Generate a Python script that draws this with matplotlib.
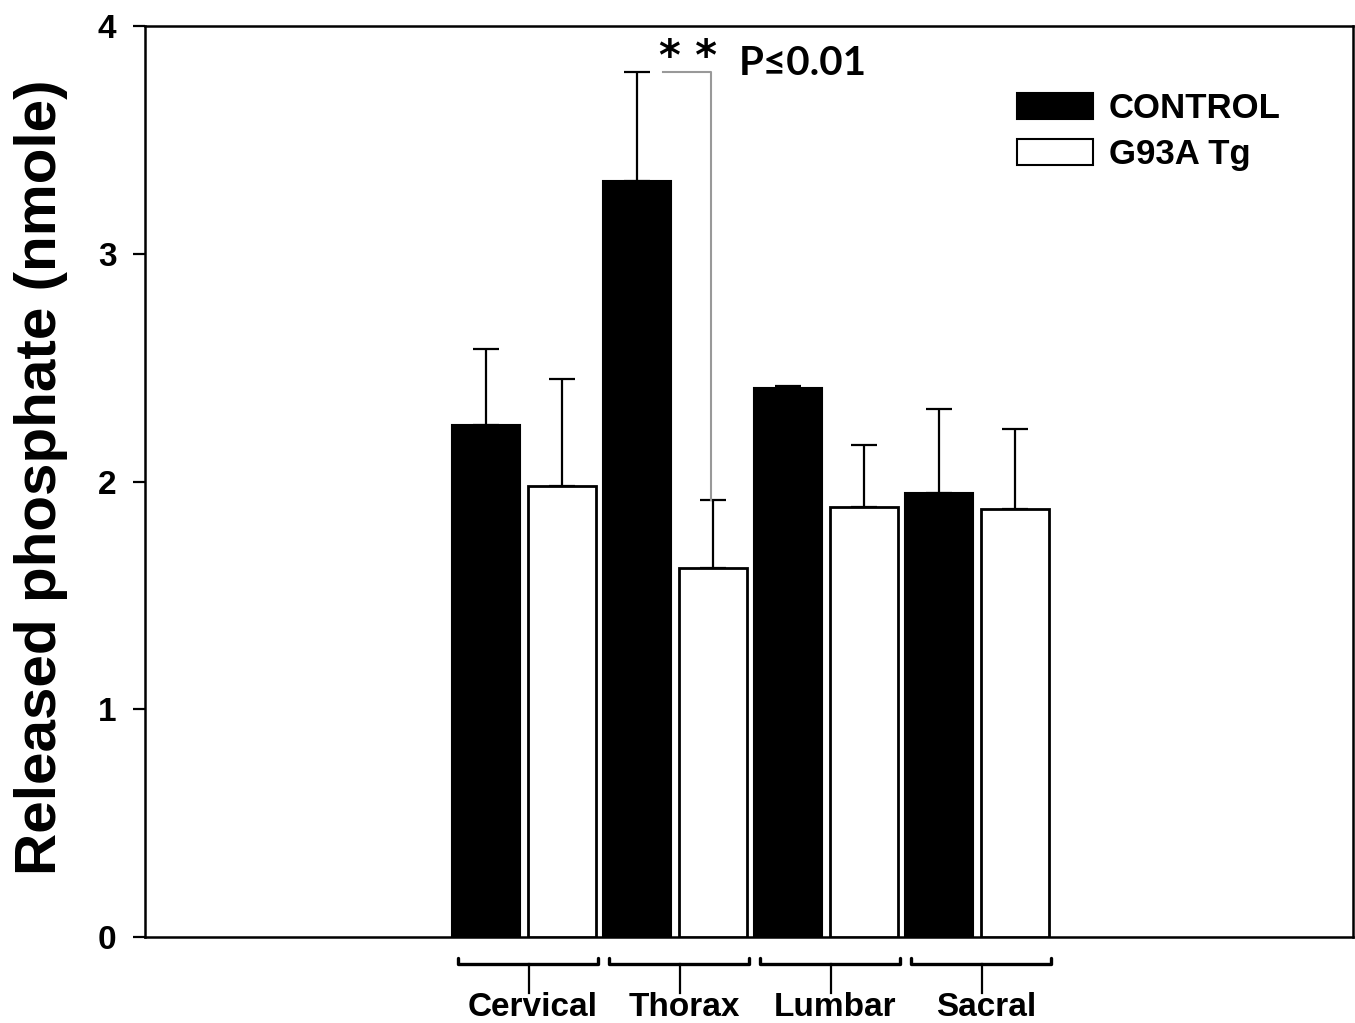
import matplotlib
matplotlib.use("Agg")
import matplotlib.pyplot as plt
import matplotlib.transforms as mtransforms
from matplotlib.patches import Patch
import numpy as np

regions = ["Cervical", "Thorax", "Lumbar", "Sacral"]
control_mean = [2.25, 3.32, 2.41, 1.95]
control_err = [0.33, 0.48, 0.01, 0.37]
tg_mean = [1.98, 1.62, 1.89, 1.88]
tg_err = [0.47, 0.30, 0.27, 0.35]
series_labels = ["CONTROL", "G93A Tg"]
yticks = [0, 1, 2, 3, 4]

plt.rcParams['font.family'] = ['Liberation Sans', 'DejaVu Sans']

fig = plt.figure(figsize=(13.55, 10.23), dpi=100)
ax = fig.add_axes([145/1355, 86/1023, (1353-145)/1355, (937-26)/1023])

n = len(regions)
xc = np.arange(n) * 2
xt = xc + 1
w = 0.9
ax.bar(xc, control_mean, width=w, color='black', edgecolor='black', linewidth=1.5, zorder=3)
ax.bar(xt, tg_mean, width=w, color='white', edgecolor='black', linewidth=2, zorder=3)
ax.errorbar(xc, control_mean, yerr=[np.zeros(n), control_err], fmt='none', ecolor='black',
            elinewidth=1.6, capsize=9.5, capthick=1.6, zorder=2)
ax.errorbar(xt, tg_mean, yerr=[np.zeros(n), tg_err], fmt='none', ecolor='black',
            elinewidth=1.6, capsize=9.5, capthick=1.6, zorder=2)

ax.set_xlim(-4.52, 11.48)
ax.set_ylim(0, 4)
ax.set_yticks(yticks)
ax.tick_params(axis='y', direction='out', length=8.6, width=1.6, pad=12, labelsize=24)
for lab in ax.get_yticklabels():
    lab.set_fontweight('bold')
ax.set_xticks([])
for s in ax.spines.values():
    s.set_linewidth(1.8)

fig.text(41/1355, 1 - 477/1023, "Released phosphate (nmole)", rotation=90, ha='center', va='center',
         fontsize=42, fontweight='bold')

# category brackets below axis
trans = mtransforms.blended_transform_factory(ax.transData, ax.transAxes)
yb = -27/911
yhook = -21/911
ytick_end = -56/911
for i, name in enumerate(regions):
    x0 = xc[i] - 0.37
    x1 = xc[i] + 1.48
    xm = xc[i] + 0.57
    ax.plot([x0, x0, x1, x1], [yhook, yb, yb, yhook], transform=trans, color='black',
            lw=2.4, clip_on=False, solid_capstyle='round', solid_joinstyle='round')
    ax.plot([xm, xm], [yb, ytick_end], transform=trans, color='black', lw=1.6, clip_on=False)
    ax.text(xc[i] + 0.62, -71/911, name, transform=trans, ha='center', va='center',
            fontsize=24, fontweight='bold')

# significance annotation
sig_y = control_mean[1] + control_err[1]
ax.plot([2.34, 2.98, 2.98], [sig_y, sig_y, tg_mean[1] + tg_err[1]], color='#999999', lw=1.5, zorder=4)
ax.text(2.67, 3.86, "* *", ha='center', va='center', fontsize=30, fontweight='bold',
        family=['DejaVu Sans'])
ax.text(3.35, 3.835, "P\u22640.01", ha='left', va='center', fontsize=29, fontweight='bold',
        family=['Lato', 'DejaVu Sans'])

handles = [Patch(facecolor='black', edgecolor='black', linewidth=1.5),
           Patch(facecolor='white', edgecolor='black', linewidth=1.5)]
leg = ax.legend(handles, series_labels, loc='upper left', bbox_to_anchor=((1017-145)/1208, (937-92)/911),
                frameon=False, prop={'weight': 'bold', 'size': 25}, handlelength=2.2, handleheight=0.75,
                handletextpad=0.45, labelspacing=0.38, borderpad=0, borderaxespad=0)

fig.savefig("out.png", dpi=100)
